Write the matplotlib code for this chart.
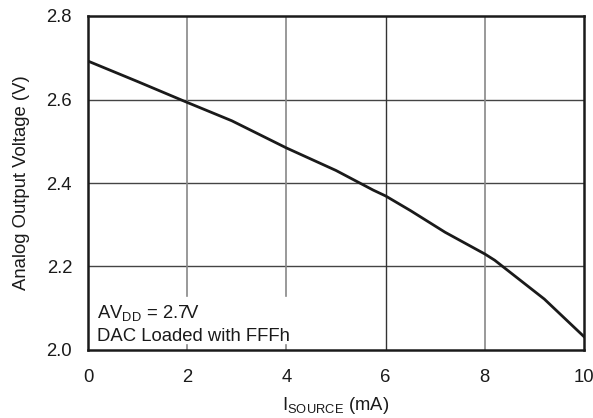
import matplotlib
matplotlib.use("Agg")
import matplotlib.pyplot as plt

plt.rcParams['font.family'] = ['Liberation Sans', 'DejaVu Sans']

# Data
isource = [0, 1, 2, 2.9, 4, 5, 5.75, 6, 6.5, 7.2, 8, 8.2, 9.2, 10]
vout = [2.692, 2.643, 2.593, 2.549, 2.484, 2.43, 2.383, 2.369, 2.334, 2.282, 2.230, 2.215, 2.122, 2.032]
xticks = [0, 2, 4, 6, 8, 10]
yticks = [2.0, 2.2, 2.4, 2.6, 2.8]
xlabels = ['0', '2', '4', '6', '8', '10']
ylabels = ['2.0', '2.2', '2.4', '2.6', '2.8']

FS = 13.3

fig = plt.figure(figsize=(5.93, 4.18), dpi=100)
ax = fig.add_axes([88/593, 68/418, 496/593, 334/418])
ax.set_xlim(0, 10)
ax.set_ylim(2.0, 2.8)

# grid
for y in [2.2, 2.4, 2.6]:
    ax.plot([0, 10], [y, y], color='#444444', lw=1.0, zorder=1)
for x in [2, 4]:
    ax.plot([x, x], [2.13, 2.8], color='#888888', lw=1.2, zorder=1)
    ax.plot([x, x], [2.0, 2.012], color='#888888', lw=1.2, zorder=1)
ax.plot([6, 6], [2.0, 2.8], color='#333333', lw=1.0, zorder=1)
ax.plot([8, 8], [2.0, 2.8], color='#888888', lw=1.2, zorder=1)

ax.plot(isource, vout, color='#1a1a1a', lw=2.0, zorder=3)

ax.set_xticks(xticks)
ax.set_xticklabels(xlabels)
ax.set_yticks(yticks)
ax.set_yticklabels(ylabels)
ax.tick_params(axis='both', length=0, labelsize=FS, colors='#1a1a1a')
ax.tick_params(axis='y', pad=11.5)
ax.tick_params(axis='x', pad=14)
for s in ax.spines.values():
    s.set_linewidth(1.8)
    s.set_color('#1a1a1a')

ax.set_ylabel('Analog Output Voltage (V)', fontsize=FS, color='#1a1a1a', labelpad=12)
ax.set_xlabel(r'I$_{\mathregular{SOURCE}}$ (mA)', fontsize=FS, color='#1a1a1a', labelpad=6)

ax.text(0.018, 0.11, r'AV$_{\mathregular{DD}}$ = 2.7V', transform=ax.transAxes,
        fontsize=FS, color='#1a1a1a', va='center', ha='left')
ax.text(0.018, 0.04, 'DAC Loaded with FFFh', transform=ax.transAxes,
        fontsize=FS, color='#1a1a1a', va='center', ha='left')

fig.savefig('out.png', dpi=100)
